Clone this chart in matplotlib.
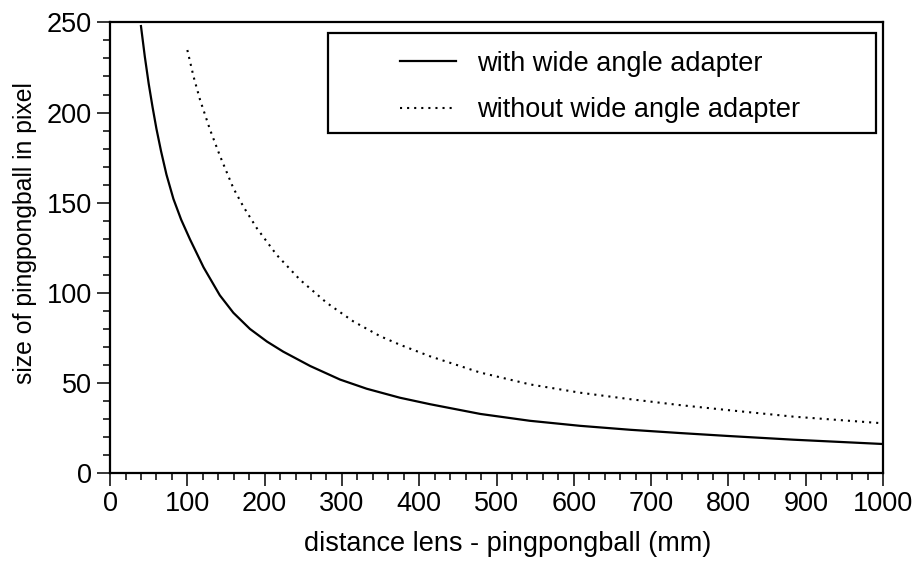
import matplotlib
matplotlib.use("Agg")
import matplotlib.pyplot as plt
from matplotlib.patches import Rectangle
from matplotlib.ticker import MultipleLocator

plt.rcParams['font.family'] = ['Liberation Sans', 'DejaVu Sans']

# values
dist_with = [40, 45, 50, 55, 60, 66, 73, 82, 92, 103.5, 121, 142, 159.5, 181, 203, 224,
             259, 297.5, 332, 375, 414, 479, 543, 608, 673, 737, 798, 884, 1000]
size_with = [248, 231, 216, 203, 191, 178.5, 165.5, 152, 140.5, 129.5, 114, 98.5, 88.8, 79.8,
             72.8, 67.2, 59.2, 51.7, 46.6, 41.6, 38.0, 32.6, 28.8, 26.0, 23.8, 22.0, 20.4,
             18.3, 15.9]

dist_without = [100, 108, 116.4, 129.4, 142.3, 159.5, 172.4, 189.8, 215.6, 245.8, 280.3,
                314.7, 349.3, 375.2, 414, 478.7, 543.3, 608, 672.7, 737.4, 797.8, 884, 1000]
size_without = [234.7, 220, 207.1, 190.4, 175.8, 158.0, 147.8, 135.8, 120.9, 107.1, 94.3,
                84.0, 75.8, 71.0, 64.6, 55.6, 49.0, 44.4, 40.8, 37.5, 34.8, 31.1, 27.4]

labels = ['with wide angle adapter', 'without wide angle adapter']

fig = plt.figure(figsize=(9.17, 5.62), dpi=100)
ax = fig.add_axes([0.12, 0.159, 0.843, 0.801])

ax.plot(dist_with, size_with, color='black', lw=1.6, label=labels[0])
ax.plot(dist_without, size_without, color='black', lw=1.5, ls=(0, (1, 2.4)), label=labels[1])

ax.set_xlim(0, 1000)
ax.set_ylim(0, 250)
ax.xaxis.set_major_locator(MultipleLocator(100))
ax.xaxis.set_minor_locator(MultipleLocator(20))
ax.yaxis.set_major_locator(MultipleLocator(50))
ax.yaxis.set_minor_locator(MultipleLocator(10))
ax.tick_params(which='major', direction='out', length=9.5, width=1.1, labelsize=19.5, pad=3.5)
ax.tick_params(which='minor', direction='out', length=5, width=1.1)
for s in ax.spines.values():
    s.set_linewidth(1.6)

ax.set_xlabel('distance lens - pingpongball (mm)', fontsize=19.5)
ax.set_ylabel('size of pingpongball in pixel', fontsize=17.8)
ax.xaxis.set_label_coords(0.514, -0.13)
ax.yaxis.set_label_coords(-0.094, 0.533)

# legend box
ax.add_patch(Rectangle((0.282, 0.755), 0.709, 0.222, transform=ax.transAxes,
                       fill=False, edgecolor='black', lw=1.6, zorder=5))
ax.legend(loc='upper left', bbox_to_anchor=(0.365, 0.955), frameon=False, fontsize=19.5,
          handlelength=2.05, handletextpad=0.8, labelspacing=0.75, borderpad=0.3,
          borderaxespad=0)

fig.savefig('out.png', dpi=100)
